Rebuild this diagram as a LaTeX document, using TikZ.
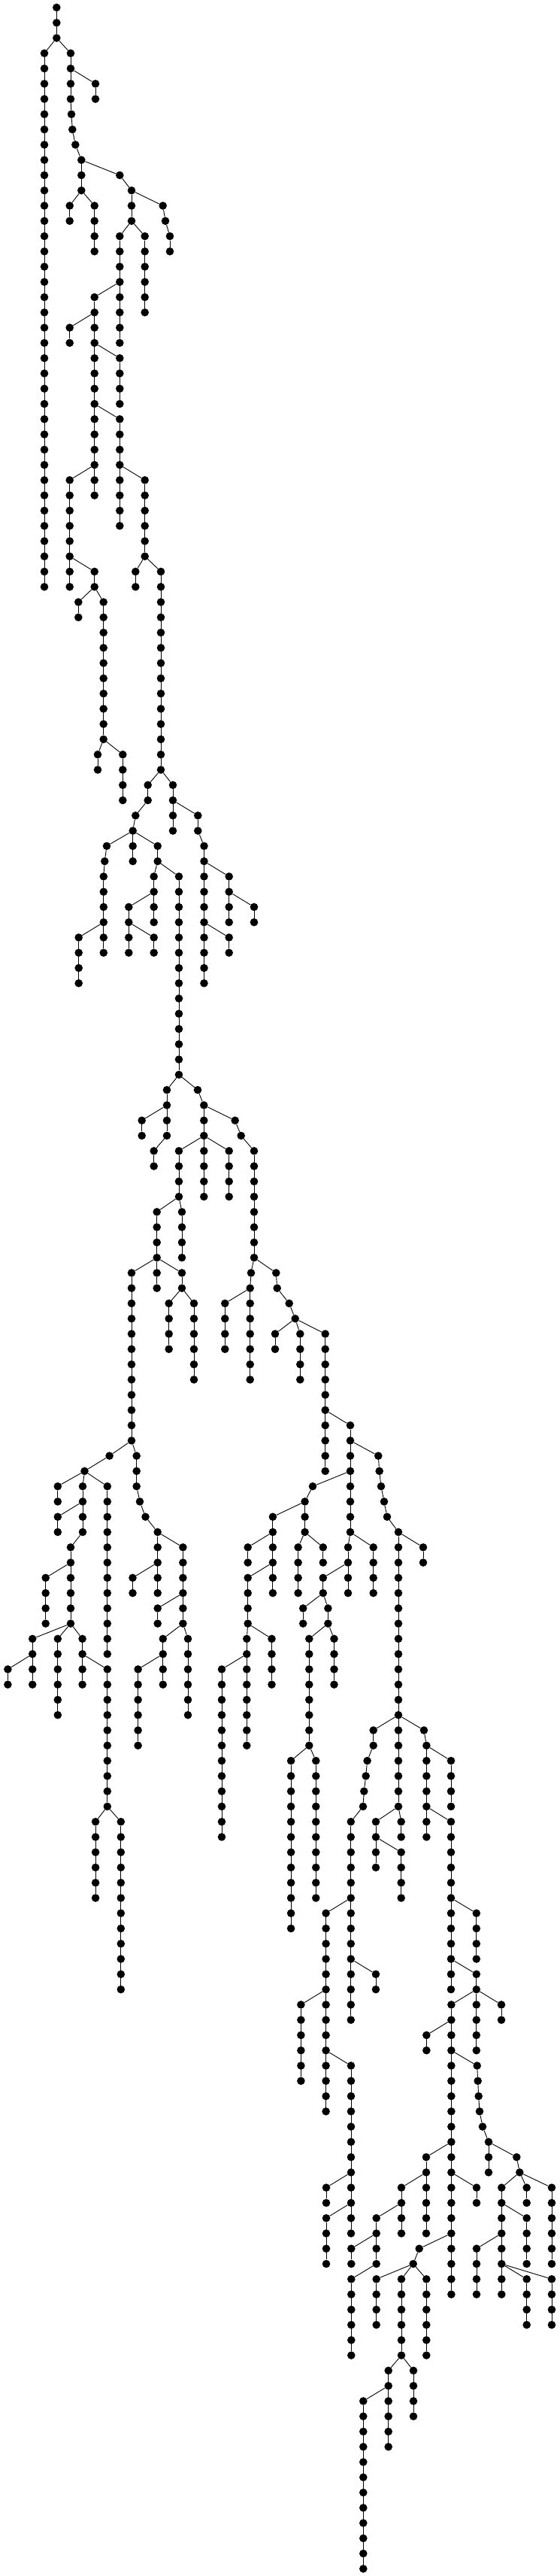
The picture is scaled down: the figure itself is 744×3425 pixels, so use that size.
\documentclass[tikz,border=0pt]{standalone}
\tikzset{dot/.style={circle,fill=black,inner sep=0pt,minimum size=10.6pt},
 edge/.style={line width=0.9pt,black}}
\newcommand\Ch[5]{%
 \foreach \r in {#3,...,#4}{\node[dot] (#1-\r) at (#2,{-(10+20.27*\r)}) {};}%
 \ifnum#4>#3\relax\draw[edge] (#1-#3) -- (#1-#4);\fi
 \draw[edge] (#5) -- (#1-#3);}
\begin{document}
\begin{tikzpicture}[x=1pt,y=1pt]
\useasboundingbox (0,0) rectangle (744,-3425);
\foreach \r in {0,1,2}{\node[dot] (k1-\r) at (75.3,{-(10+20.27*\r)}) {};}
\draw[edge] (k1-0) -- (k1-2);
\Ch{k2}{59}{3}{38}{k1-2}
\Ch{k3}{94}{3}{6}{k1-2}
\Ch{k4}{127}{5}{6}{k3-4}
\Ch{k5}{95}{7}{7}{k3-6}
\Ch{k6}{96.3}{8}{8}{k5-7}
\Ch{k7}{100.3}{9}{9}{k6-8}
\Ch{k8}{108.3}{10}{12}{k7-9}
\Ch{k9}{159.3}{11}{11}{k8-10}
\Ch{k10}{175}{12}{14}{k9-11}
\Ch{k11}{216.7}{13}{13}{k10-12}
\Ch{k12}{220}{14}{14}{k11-13}
\Ch{k13}{226}{15}{16}{k12-14}
\Ch{k14}{92.7}{13}{14}{k8-12}
\Ch{k15}{125.7}{13}{16}{k8-12}
\Ch{k16}{159.3}{15}{22}{k10-14}
\Ch{k17}{192.7}{15}{20}{k10-14}
\Ch{k18}{125.7}{19}{32}{k16-18}
\Ch{k19}{92.7}{21}{22}{k18-20}
\Ch{k20}{159.3}{23}{26}{k18-22}
\Ch{k21}{159.3}{27}{34}{k18-26}
\Ch{k22}{92.7}{31}{38}{k18-30}
\Ch{k23}{192.7}{31}{36}{k21-30}
\Ch{k24}{125.7}{37}{38}{k22-36}
\Ch{k25}{180.3}{37}{38}{k23-36}
\Ch{k26}{214}{37}{50}{k23-36}
\Ch{k27}{104.3}{39}{40}{k24-38}
\Ch{k28}{137.7}{39}{48}{k24-38}
\Ch{k29}{130}{49}{50}{k28-48}
\Ch{k30}{163.3}{49}{52}{k28-48}
\Ch{k31}{196.7}{51}{52}{k26-50}
\Ch{k32}{230}{51}{54}{k26-50}
\Ch{k33}{180.3}{53}{53}{k31-52}
\Ch{k34}{176.7}{54}{56}{k33-53}
\Ch{k35}{142}{55}{55}{k34-54}
\Ch{k36}{139.3}{56}{56}{k35-55}
\Ch{k37}{137.8}{57}{62}{k36-56}
\Ch{k38}{209.7}{55}{56}{k34-54}
\Ch{k39}{204.7}{57}{60}{k38-56}
\Ch{k40}{238}{57}{70}{k38-56}
\Ch{k41}{171.3}{59}{62}{k39-58}
\Ch{k42}{204.7}{61}{62}{k41-60}
\Ch{k43}{104.7}{61}{64}{k37-60}
\Ch{k44}{263.3}{53}{54}{k32-52}
\Ch{k45}{271.5}{55}{64}{k44-54}
\Ch{k46}{304.7}{57}{60}{k45-56}
\Ch{k47}{338}{59}{60}{k46-58}
\Ch{k48}{304.7}{61}{62}{k45-60}
\Ch{k49}{222}{71}{74}{k40-70}
\Ch{k50}{263}{71}{71}{k40-70}
\Ch{k51}{271.3}{72}{78}{k50-71}
\Ch{k52}{188.7}{73}{74}{k49-72}
\Ch{k53}{204.7}{75}{76}{k49-74}
\Ch{k54}{312.7}{73}{73}{k51-72}
\Ch{k55}{320.7}{74}{74}{k54-73}
\Ch{k56}{338}{75}{82}{k55-74}
\Ch{k57}{238}{75}{78}{k51-74}
\Ch{k58}{304.7}{75}{78}{k51-74}
\Ch{k59}{208.7}{79}{82}{k57-78}
\Ch{k60}{242}{79}{82}{k57-78}
\Ch{k61}{175}{83}{94}{k59-82}
\Ch{k62}{208.7}{83}{84}{k59-82}
\Ch{k63}{242}{83}{84}{k59-82}
\Ch{k64}{224.7}{85}{88}{k63-84}
\Ch{k65}{258}{85}{90}{k63-84}
\Ch{k66}{334}{83}{83}{k56-82}
\Ch{k67}{332.7}{84}{90}{k66-83}
\Ch{k68}{299.3}{85}{88}{k67-84}
\Ch{k69}{367.3}{83}{83}{k56-82}
\Ch{k70}{368.7}{84}{84}{k69-83}
\Ch{k71}{384.7}{85}{85}{k70-84}
\Ch{k72}{392.7}{86}{86}{k71-85}
\Ch{k73}{366}{87}{88}{k72-86}
\Ch{k74}{399.3}{87}{90}{k72-86}
\Ch{k75}{432.7}{87}{96}{k72-86}
\Ch{k76}{466}{93}{100}{k75-92}
\Ch{k77}{145.6}{95}{95}{k61-94}
\Ch{k78}{112.5}{96}{96}{k77-95}
\Ch{k79}{76.8}{97}{98}{k78-96}
\Ch{k80}{110}{97}{100}{k78-96}
\Ch{k81}{142.8}{97}{108}{k78-96}
\Ch{k82}{76.8}{99}{100}{k80-98}
\Ch{k83}{94}{101}{106}{k80-100}
\Ch{k84}{60.7}{103}{106}{k83-102}
\Ch{k85}{43.2}{107}{110}{k83-106}
\Ch{k86}{76.8}{107}{112}{k83-106}
\Ch{k87}{109.6}{107}{110}{k83-106}
\Ch{k88}{10.4}{109}{110}{k85-108}
\Ch{k89}{142.8}{109}{118}{k87-108}
\Ch{k90}{127.1}{119}{124}{k89-118}
\Ch{k91}{160.8}{119}{130}{k89-118}
\Ch{k92}{181.7}{95}{97}{k61-94}
\Ch{k93}{186}{98}{98}{k92-97}
\Ch{k94}{193.5}{99}{99}{k93-98}
\Ch{k95}{209.7}{100}{104}{k94-99}
\Ch{k96}{243.4}{101}{106}{k95-100}
\Ch{k97}{176.5}{103}{104}{k95-102}
\Ch{k98}{209.7}{105}{106}{k96-104}
\Ch{k99}{216.8}{107}{110}{k96-106}
\Ch{k100}{250}{107}{112}{k96-106}
\Ch{k101}{183.6}{109}{114}{k99-108}
\Ch{k102}{503.3}{95}{95}{k76-94}
\Ch{k103}{504.7}{96}{96}{k102-95}
\Ch{k104}{507}{97}{97}{k103-96}
\Ch{k105}{511}{98}{98}{k104-97}
\Ch{k106}{515}{99}{99}{k105-98}
\Ch{k107}{530}{100}{118}{k106-99}
\Ch{k108}{563}{101}{102}{k107-100}
\Ch{k109}{416}{97}{97}{k76-96}
\Ch{k110}{405.6}{98}{100}{k109-97}
\Ch{k111}{362.9}{99}{104}{k110-98}
\Ch{k112}{329.7}{101}{102}{k111-100}
\Ch{k113}{329.7}{103}{106}{k111-102}
\Ch{k114}{328.3}{107}{114}{k113-106}
\Ch{k115}{361.5}{107}{110}{k113-106}
\Ch{k116}{295}{109}{120}{k114-108}
\Ch{k117}{396.6}{101}{104}{k110-100}
\Ch{k118}{429.8}{101}{102}{k110-100}
\Ch{k119}{463}{101}{104}{k76-100}
\Ch{k120}{496.7}{101}{104}{k76-100}
\Ch{k121}{429.8}{103}{104}{k119-102}
\Ch{k122}{403.2}{105}{106}{k121-104}
\Ch{k123}{436.4}{105}{106}{k121-104}
\Ch{k124}{411.3}{107}{114}{k123-106}
\Ch{k125}{444.5}{107}{110}{k123-106}
\Ch{k126}{387.1}{115}{126}{k124-114}
\Ch{k127}{420.3}{115}{124}{k124-114}
\Ch{k128}{500}{119}{122}{k107-118}
\Ch{k129}{533.7}{119}{120}{k107-118}
\Ch{k130}{533.7}{121}{124}{k128-120}
\Ch{k131}{496.7}{113}{114}{k107-112}
\Ch{k132}{488.6}{115}{115}{k131-114}
\Ch{k133}{486.7}{116}{116}{k132-115}
\Ch{k134}{484.3}{117}{117}{k133-116}
\Ch{k135}{483}{118}{118}{k134-117}
\Ch{k136}{466.8}{119}{132}{k135-118}
\Ch{k137}{500}{129}{130}{k136-128}
\Ch{k138}{433.6}{125}{138}{k136-124}
\Ch{k139}{400.4}{131}{136}{k138-130}
\Ch{k140}{467}{135}{146}{k138-134}
\Ch{k141}{564}{113}{113}{k107-112}
\Ch{k142}{567.4}{114}{120}{k141-113}
\Ch{k143}{600}{115}{118}{k142-114}
\Ch{k144}{600}{119}{130}{k142-118}
\Ch{k145}{633.8}{125}{128}{k144-124}
\Ch{k146}{633.8}{129}{130}{k144-128}
\Ch{k147}{600.4}{131}{150}{k146-130}
\Ch{k148}{633.8}{131}{134}{k146-130}
\Ch{k149}{667}{131}{132}{k146-130}
\Ch{k150}{567.4}{133}{134}{k147-132}
\Ch{k151}{634.7}{135}{135}{k147-134}
\Ch{k152}{635.7}{136}{136}{k151-135}
\Ch{k153}{636.7}{137}{137}{k152-136}
\Ch{k154}{638}{138}{138}{k153-137}
\Ch{k155}{642}{139}{139}{k154-138}
\Ch{k156}{650}{140}{142}{k155-139}
\Ch{k157}{687.3}{141}{141}{k156-140}
\Ch{k158}{691.3}{142}{142}{k157-141}
\Ch{k159}{667.3}{143}{150}{k158-142}
\Ch{k160}{700.7}{143}{144}{k158-142}
\Ch{k161}{734}{143}{148}{k158-142}
\Ch{k162}{700.7}{145}{148}{k159-144}
\Ch{k163}{634}{147}{150}{k159-146}
\Ch{k164}{700.7}{149}{152}{k159-148}
\Ch{k165}{734}{149}{152}{k159-148}
\Ch{k166}{434}{143}{144}{k140-142}
\Ch{k167}{434}{145}{148}{k140-144}
\Ch{k168}{567}{141}{146}{k147-140}
\Ch{k169}{534}{143}{146}{k168-142}
\Ch{k170}{500.7}{145}{148}{k169-144}
\Ch{k171}{467.3}{147}{148}{k170-146}
\Ch{k172}{467.3}{149}{154}{k170-148}
\Ch{k173}{634}{143}{144}{k147-142}
\Ch{k174}{557.7}{147}{147}{k147-146}
\Ch{k175}{549.7}{148}{148}{k174-147}
\Ch{k176}{500.7}{149}{152}{k175-148}
\Ch{k177}{534}{149}{154}{k175-148}
\Ch{k178}{567.3}{149}{154}{k175-148}
\Ch{k179}{516.7}{155}{160}{k177-154}
\Ch{k180}{550}{155}{158}{k177-154}
\Ch{k181}{483.3}{157}{168}{k179-156}
\end{tikzpicture}
\end{document}
